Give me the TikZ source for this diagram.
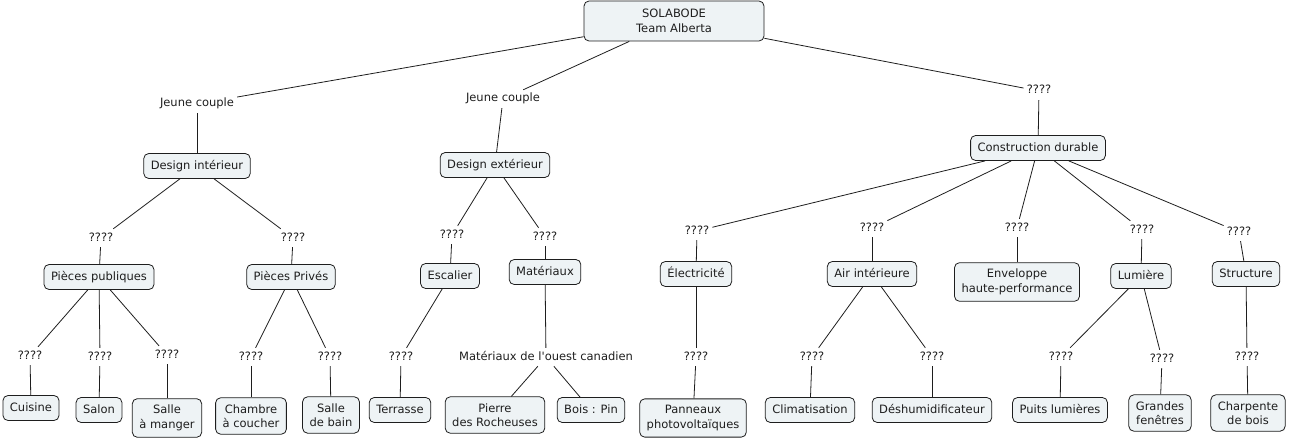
\documentclass[tikz,border=0pt]{standalone}
\usepackage{fontspec}
\setmainfont{DejaVu Sans}[Ligatures=TeXOff]
\usepackage{tikz}
\definecolor{fondcarte}{HTML}{EEF3F5}
\definecolor{encre}{HTML}{1E1E1E}
\tikzstyle{concept}=[
        rectangle,
        draw=encre,
        line width=0.8pt,
        rounded corners=5pt,
        fill=fondcarte,
        text=encre,
        align=center,
        inner xsep=7pt,
        inner ysep=6.5pt
]
\tikzstyle{simple}=[concept,text height=9pt,text depth=3pt]
\tikzstyle{lien}=[text=encre,inner sep=3pt,text height=9pt,text depth=3pt]
\tikzstyle{trait}=[draw=encre,line width=0.8pt]

\begin{document}
\begin{tikzpicture}[x=1pt,y=-1pt,every node/.style={font=\fontsize{11.5}{14.5}\selectfont}]
\useasboundingbox (0,0) rectangle (1290,441);
\node[concept,minimum width=180pt,minimum height=40pt] (racine) at (674,21) {SOLABODE\\Team Alberta};
\node[lien] (jeune1) at (197,104) {Jeune couple};
\node[lien] (jeune2) at (503,99) {Jeune couple};
\node[lien] (q0) at (1039,91) {????};
\node[simple] (dint) at (197,166) {Design intérieur};
\node[simple] (dext) at (495,165) {Design extérieur};
\node[simple] (cdur) at (1038,148) {Construction durable};
%Design interieur
\node[lien] (q1) at (101,238) {????};
\node[lien] (q2) at (293,238) {????};
\node[simple] (ppub) at (99,277) {Pièces publiques};
\node[simple] (ppriv) at (291,277) {Pièces Privés};
\node[lien] (q5) at (30,356) {????};
\node[lien] (q6) at (100,357) {????};
\node[lien] (q7) at (167,355) {????};
\node[simple] (cuisine) at (31,408) {Cuisine};
\node[simple] (salon) at (99,410) {Salon};
\node[concept] (salle) at (167,418) {Salle\\à manger};
\node[lien] (q8) at (251,357) {????};
\node[lien] (q9) at (330,357) {????};
\node[concept] (chambre) at (251,416) {Chambre\\à coucher};
\node[concept] (bain) at (331,415) {Salle\\de bain};
%Design exterieur
\node[lien] (q3) at (452,235) {????};
\node[lien] (q4) at (545,237) {????};
\node[simple] (escalier) at (450,276) {Escalier};
\node[simple] (mat) at (545,272) {Matériaux};
\node[lien] (q10) at (401,357) {????};
\node[simple] (terrasse) at (400,410) {Terrasse};
\node[lien] (ouest) at (546,357) {Matériaux de l'ouest canadien};
\node[concept] (pierre) at (495,415) {Pierre\\des Rocheuses};
\node[simple] (bois) at (591,410) {Bois : Pin};
%Construction durable
\node[lien] (q11) at (697,231) {????};
\node[lien] (q12) at (872,228) {????};
\node[lien] (q13) at (1017,228) {????};
\node[lien] (q14) at (1142,230) {????};
\node[lien] (q15) at (1239,232) {????};
\node[simple] (elec) at (696,274) {Électricité};
\node[simple] (air) at (872,274) {Air intérieure};
\node[concept] (env) at (1017,282) {Enveloppe\\haute-performance};
\node[simple] (lum) at (1141,276) {Lumière};
\node[simple] (struct) at (1246,274) {Structure};
\node[lien] (q16) at (696,357) {????};
\node[lien] (q17) at (812,357) {????};
\node[lien] (q18) at (932,357) {????};
\node[lien] (q19) at (1061,357) {????};
\node[lien] (q20) at (1162,359) {????};
\node[lien] (q21) at (1247,357) {????};
\node[concept] (panneaux) at (693,418) {Panneaux\\photovoltaïques};
\node[simple] (clim) at (810,410) {Climatisation};
\node[simple] (deshum) at (932,410) {Déshumidificateur};
\node[simple] (puits) at (1060,410) {Puits lumières};
\node[concept] (fenetres) at (1160,413) {Grandes\\fenêtres};
\node[concept] (charpente) at (1248,413) {Charpente\\de bois};
%Traits
\draw[trait] (racine) -- (jeune1);
\draw[trait] (racine) -- (jeune2);
\draw[trait] (racine) -- (q0);
\draw[trait] (jeune1) -- (dint);
\draw[trait] (jeune2) -- (dext);
\draw[trait] (q0) -- (cdur);
\draw[trait] (dint) -- (q1);
\draw[trait] (dint) -- (q2);
\draw[trait] (q1) -- (ppub);
\draw[trait] (q2) -- (ppriv);
\draw[trait] (ppub) -- (q5);
\draw[trait] (ppub) -- (q6);
\draw[trait] (ppub) -- (q7);
\draw[trait] (q5) -- (cuisine);
\draw[trait] (q6) -- (salon);
\draw[trait] (q7) -- (salle);
\draw[trait] (ppriv) -- (q8);
\draw[trait] (ppriv) -- (q9);
\draw[trait] (q8) -- (chambre);
\draw[trait] (q9) -- (bain);
\draw[trait] (dext) -- (q3);
\draw[trait] (dext) -- (q4);
\draw[trait] (q3) -- (escalier);
\draw[trait] (q4) -- (mat);
\draw[trait] (escalier) -- (q10);
\draw[trait] (q10) -- (terrasse);
\draw[trait] (mat) -- (ouest);
\draw[trait] (ouest) -- (pierre);
\draw[trait] (ouest) -- (bois);
\draw[trait] (cdur) -- (q11);
\draw[trait] (cdur) -- (q12);
\draw[trait] (cdur) -- (q13);
\draw[trait] (cdur) -- (q14);
\draw[trait] (cdur) -- (q15);
\draw[trait] (q11) -- (elec);
\draw[trait] (q12) -- (air);
\draw[trait] (q13) -- (env);
\draw[trait] (q14) -- (lum);
\draw[trait] (q15) -- (struct);
\draw[trait] (elec) -- (q16);
\draw[trait] (q16) -- (panneaux);
\draw[trait] (air) -- (q17);
\draw[trait] (air) -- (q18);
\draw[trait] (q17) -- (clim);
\draw[trait] (q18) -- (deshum);
\draw[trait] (lum) -- (q19);
\draw[trait] (lum) -- (q20);
\draw[trait] (q19) -- (puits);
\draw[trait] (q20) -- (fenetres);
\draw[trait] (struct) -- (q21);
\draw[trait] (q21) -- (charpente);
\end{tikzpicture}
\end{document}
